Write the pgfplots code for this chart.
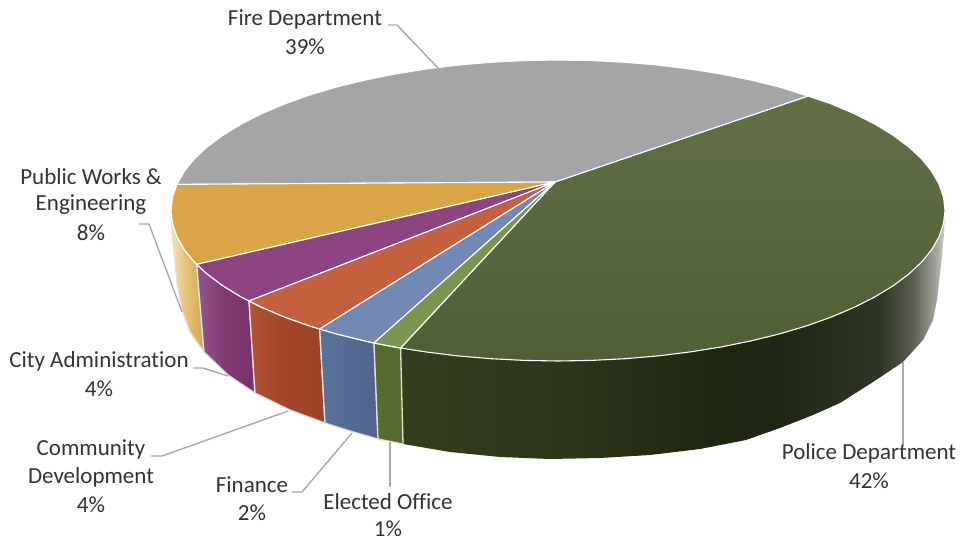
\documentclass[border=0pt]{standalone}
\usepackage{fontspec}
\setmainfont{Carlito}[Ligatures=NoCommon]
\usepackage{pgfplots}
\pgfplotsset{compat=1.18}

% slice colours
\definecolor{firetop}{HTML}{A6A5A6}
\definecolor{policetopA}{HTML}{626F47}
\definecolor{policetopB}{HTML}{4F6034}
\definecolor{goldtop}{HTML}{D9A546}
\definecolor{purpletop}{HTML}{8E4480}
\definecolor{orangetop}{HTML}{C46040}
\definecolor{bluetop}{HTML}{7289B5}
\definecolor{greentop}{HTML}{7A954F}
\definecolor{greenside}{HTML}{566B30}
\definecolor{leader}{HTML}{A9A9A9}
\definecolor{labeltext}{HTML}{333333}

% wall colours
\definecolor{pwA}{HTML}{333F1C}
\definecolor{pwB}{HTML}{2C3619}
\definecolor{pwC}{HTML}{1E2510}
\definecolor{pwD}{HTML}{1F2612}
\definecolor{pwE}{HTML}{2F3525}
\definecolor{pwF}{HTML}{5A5D50}
\definecolor{pwG}{HTML}{A5A6A0}
\definecolor{pwH}{HTML}{CFCFCC}
\definecolor{gwA}{HTML}{F3E2BC}
\definecolor{gwB}{HTML}{E8C480}
\definecolor{gwC}{HTML}{D6A54E}
\definecolor{vwA}{HTML}{92588A}
\definecolor{vwB}{HTML}{7E3A72}
\definecolor{vwC}{HTML}{78326C}
\definecolor{owA}{HTML}{AE5434}
\definecolor{owB}{HTML}{A44428}
\definecolor{owC}{HTML}{9A4428}
\definecolor{bwA}{HTML}{5A7298}
\definecolor{bwB}{HTML}{4E648E}

% wall shadings, stops run from 25bp to 75bp across the wall's width
\pgfdeclarehorizontalshading{policewall}{100bp}{
  color(0bp)=(pwA); color(25bp)=(pwA); color(40bp)=(pwB); color(55bp)=(pwC);
  color(60bp)=(pwD); color(69bp)=(pwE); color(72bp)=(pwF); color(74.2bp)=(pwG);
  color(75bp)=(pwH); color(100bp)=(pwH)}
\pgfdeclarehorizontalshading{goldwall}{100bp}{
  color(0bp)=(gwA); color(25bp)=(gwA); color(45bp)=(gwB); color(75bp)=(gwC); color(100bp)=(gwC)}
\pgfdeclarehorizontalshading{purplewall}{100bp}{
  color(0bp)=(vwA); color(25bp)=(vwA); color(50bp)=(vwB); color(75bp)=(vwC); color(100bp)=(vwC)}
\pgfdeclarehorizontalshading{orangewall}{100bp}{
  color(0bp)=(owA); color(25bp)=(owA); color(50bp)=(owB); color(75bp)=(owC); color(100bp)=(owC)}
\pgfdeclarehorizontalshading{bluewall}{100bp}{
  color(0bp)=(bwA); color(25bp)=(bwA); color(75bp)=(bwB); color(100bp)=(bwB)}

\tikzset{
  leaderline/.style={draw=leader, line width=1.4pt, fill=none},
  topface/.style={draw=white, line width=1.1pt},
  wallseam/.style={draw=white!88!black, line width=1.3pt},
  lab/.style={font=\fontsize{23}{23}\selectfont, text=labeltext, anchor=center, inner sep=0pt},
}

\begin{document}
\begin{tikzpicture}
\begin{axis}[
  at={(0pt,0pt)},
  width=961pt, height=540pt, scale only axis,
  xmin=0, xmax=961, ymin=0, ymax=540,
  y dir=reverse,
  hide axis, clip=false, no markers,
  every axis plot/.append style={forget plot, line join=round},
]
% page corners
\addplot[draw=none] coordinates {(0,0) (961,540)};

% walls of the cylinder, from the outer rim downward
\addplot[draw=none, shading=policewall] coordinates {
  (400.6,348) (425.6,351.9) (457.8,355.9) (490.8,358.7) (524.3,360.4) (558,361) (591.7,360.4)
  (625.2,358.7) (658.2,355.9) (690.4,351.9) (721.5,346.9) (751.5,340.8) (780,333.8) (806.8,325.8)
  (831.7,316.9) (854.5,307.2) (875,296.8) (893.1,285.8) (908.7,274.1) (921.7,262) (931.8,249.5)
  (939.1,236.6) (943.5,223.6) (945,210.5) (944,235) (941,265) (937,300) (933,320) (923,340)
  (903,362) (873,382) (840,403) (813,415) (780,428) (746,440) (700,449) (650,455) (600,458)
  (550,459) (500,457) (450,452) (403,444) (400.6,348)};
\addplot[wallseam, shading=goldwall] coordinates {
  (196.7,264.4) (194.3,262) (184.2,249.5) (176.9,236.6) (172.5,223.6) (171,210.5) (172,232)
  (177,283) (182,310) (190,332) (204,352) (196.7,264.4)};
\addplot[wallseam, shading=purplewall] coordinates {
  (196.7,264.4) (207.3,274.1) (222.9,285.8) (241,296.8) (249,301) (255,393) (228,375) (204,352)
  (196.7,264.4)};
\addplot[wallseam, shading=orangewall] coordinates {
  (249,301) (261.5,307.2) (284.3,316.9) (309.2,325.8) (319.7,329) (325,423) (290,410) (255,393)
  (249,301)};
\addplot[wallseam, shading=bluewall] coordinates {
  (319.7,329) (336,333.8) (364.5,340.8) (374,343) (378,439) (350,431) (325,423) (319.7,329)};
\addplot[wallseam, fill=greenside] coordinates {
  (374,343) (394.5,346.9) (400.6,348) (403,444) (378,439) (374,343)};

% top faces of the slices
\addplot[topface, top color=policetopA, bottom color=policetopB] coordinates {
  (555,182) (808,96) (831.7,104.1) (854.5,113.8) (875,124.2) (893.1,135.3) (908.7,146.9)
  (921.7,159) (931.8,171.5) (939.1,184.4) (943.5,197.4) (945,210.5) (943.5,223.6) (939.1,236.6)
  (931.8,249.5) (921.7,262) (908.7,274.1) (893.1,285.8) (875,296.8) (854.5,307.2) (831.7,316.9)
  (806.8,325.8) (780,333.8) (751.5,340.8) (721.5,346.9) (690.4,351.9) (658.2,355.9) (625.2,358.7)
  (591.7,360.4) (558,361) (524.3,360.4) (490.8,358.7) (457.8,355.9) (425.6,351.9) (400.6,348)
  (555,182)};
\addplot[topface, fill=firetop] coordinates {
  (555,182) (808,96) (780,87.2) (751.5,80.2) (721.5,74.1) (690.4,69.1) (658.2,65.1) (625.2,62.3)
  (591.7,60.6) (558,60) (524.3,60.6) (490.8,62.3) (457.8,65.1) (425.6,69.1) (394.5,74.1)
  (364.5,80.2) (336,87.2) (309.2,95.2) (284.3,104.1) (261.5,113.8) (241,124.2) (222.9,135.3)
  (207.3,146.9) (194.3,159) (184.2,171.5) (176.9,184.4) (555,182)};
\addplot[topface, fill=goldtop] coordinates {
  (555,182) (176.9,184.4) (172.5,197.4) (171,210.5) (172.5,223.6) (176.9,236.6) (184.2,249.5)
  (194.3,262) (196.7,264.4) (555,182)};
\addplot[topface, fill=purpletop] coordinates {
  (555,182) (196.7,264.4) (207.3,274.1) (222.9,285.8) (241,296.8) (249,301) (555,182)};
\addplot[topface, fill=orangetop] coordinates {
  (555,182) (249,301) (261.5,307.2) (284.3,316.9) (309.2,325.8) (319.7,329) (555,182)};
\addplot[topface, fill=bluetop] coordinates {
  (555,182) (319.7,329) (336,333.8) (364.5,340.8) (374,343) (555,182)};
\addplot[topface, fill=greentop] coordinates {
  (555,182) (374,343) (394.5,346.9) (400.6,348) (555,182)};

% leader lines
\addplot[leaderline] coordinates {(388,25) (397,25) (438,68)};
\addplot[leaderline] coordinates {(139,224) (149,224) (182,312)};
\addplot[leaderline] coordinates {(193,368) (203,368) (228,376)};
\addplot[leaderline] coordinates {(151,456) (162,456) (288,411)};
\addplot[leaderline] coordinates {(292,492) (302,492) (352,433)};
\addplot[leaderline] coordinates {(390,442) (390,487)};
\addplot[leaderline] coordinates {(903,362) (903,447)};

% category labels with their shares
\node[lab] at (axis cs:305,19) {Fire Department};
\node[lab] at (axis cs:305,47) {39\%};
\node[lab] at (axis cs:91,177) {Public Works \&};
\node[lab] at (axis cs:91,205) {Engineering};
\node[lab] at (axis cs:91,233) {8\%};
\node[lab] at (axis cs:99,361) {City Administration};
\node[lab] at (axis cs:99,389) {4\%};
\node[lab] at (axis cs:91,449) {Community};
\node[lab] at (axis cs:91,477) {Development};
\node[lab] at (axis cs:91,505) {4\%};
\node[lab] at (axis cs:252,485) {Finance};
\node[lab] at (axis cs:252,513) {2\%};
\node[lab] at (axis cs:388,502) {Elected Office};
\node[lab] at (axis cs:388,529) {1\%};
\node[lab] at (axis cs:869,453) {Police Department};
\node[lab] at (axis cs:869,481) {42\%};
\end{axis}
\end{tikzpicture}
\end{document}
